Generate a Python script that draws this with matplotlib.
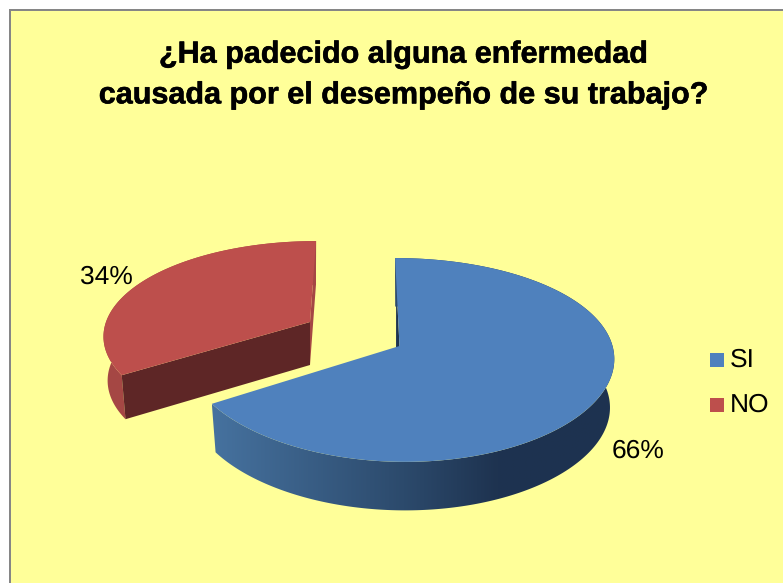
import numpy as np
import matplotlib
matplotlib.use("Agg")
import matplotlib.pyplot as plt
import matplotlib.patheffects as pe
from matplotlib.patches import Polygon, Rectangle
from matplotlib.colors import LinearSegmentedColormap

categories = ["SI", "NO"]
values = [66, 34]
title = "¿Ha padecido alguna enfermedad\ncausada por el desempeño de su trabajo?"
colors = ["#4F81BD", "#BD4F4C"]

plt.rcParams['font.family'] = ['Liberation Sans', 'DejaVu Sans']
plt.rcParams['text.hinting'] = 'none'
fig = plt.figure(figsize=(7.83, 5.83), dpi=100, facecolor="white")
ax = fig.add_axes([0, 0, 1, 1])
ax.set_xlim(0, 783)
ax.set_ylim(583, 0)
ax.axis("off")

ax.add_patch(Rectangle((10, 10), 800, 600, fc="#FFFF99", ec="#868686", lw=1.44))


def projector(x0, y0, rx, ry, shear, depth, kx, bscale):
    ky = 0.137

    def top(theta):
        s, c = np.sin(theta), np.cos(theta)
        dy = -ry * c / (1 + ky * c)
        dx = rx * s / (1 + kx * c) - shear * dy
        return x0 + dx, y0 + dy

    def bottom(theta):
        x, y = top(theta)
        return x0 + bscale * (x - x0), y + depth

    return top, bottom


fractions = np.array(values, dtype=float) / sum(values)
split = 2 * np.pi * fractions[0]

# --- NO slice (exploded, drawn first because it is behind) ---
top_n, bot_n = projector(310, 322, 204, 92, 0.075, 44, 0.122, 0.98)
th = np.linspace(split, 2 * np.pi, 160)
x1, y1 = top_n(th)
x2, y2 = bot_n(th)
side = "#A54744"
ax.add_patch(Polygon(np.r_[np.c_[x1, y1], np.c_[x2, y2][::-1]], fc=side, ec="none"))
# back cut face
tx, ty = top_n(2 * np.pi)
bx, by = bot_n(2 * np.pi)
ax.add_patch(Polygon([(tx, ty), (310, 322), (310, 322 + 43), (bx, by)], fc=side, ec="none"))
# front cut face
lx, ly = top_n(split)
lbx, lby = bot_n(split)
ax.add_patch(Polygon([(310, 322), (lx, ly), (lbx, lby), (310, 322 + 43)], fc="#5E2626", ec="none"))
ax.add_patch(Polygon(np.r_[[(310, 322)], np.c_[x1, y1]], fc=colors[1], ec="none"))

# --- SI slice ---
x0, y0 = 399.5, 346
top_s, bot_s = projector(x0, y0, 213, 100, -0.05, 48.5, 0.105, 0.98)
sx, sy = top_s(0.0)
ax.add_patch(Polygon([(sx, sy), (x0, y0), (x0 - 3.5, y0 + 47), (sx + 1, sy + 47)],
                     fc="#1D3350", ec="none"))

th = np.linspace(0, split, 400)
x1, y1 = top_s(th)
x2, y2 = bot_s(th)
side_poly = Polygon(np.r_[np.c_[x1, y1], np.c_[x2, y2][::-1]], fc="none", ec="none",
                    transform=ax.transData)
ax.add_patch(side_poly)
cmap = LinearSegmentedColormap.from_list(
    "side", [(0.0, "#46729F"), (0.47, "#2C4A6C"), (0.70, "#1E3350"), (1.0, "#1D3250")])
img = ax.imshow(np.linspace(0, 1, 256)[None, :], cmap=cmap, vmin=0, vmax=1,
                extent=(212, 620, 520, 250), aspect="auto", interpolation="bilinear", zorder=1)
img.set_clip_path(side_poly)
ax.set_xlim(0, 783)
ax.set_ylim(583, 0)
ax.add_patch(Polygon(np.r_[[(x0, y0)], np.c_[x1, y1]], fc=colors[0], ec="none", zorder=2))

# --- Texts ---
ax.text(403, 75, title, ha="center", va="center", fontsize=22, fontweight="bold",
        linespacing=1.52, color="black", zorder=3,
        path_effects=[pe.withStroke(linewidth=0.4, foreground="black")])
label_pos = [(638.5, 451), (106.5, 277)]
for v, (lxp, lyp) in zip(values, label_pos):
    ax.text(lxp, lyp, f"{v}%", ha="center", va="center", fontsize=19, color="black", zorder=3)

legend_y = [360, 405]
for cat, col, yy in zip(categories, colors, legend_y):
    ax.add_patch(Rectangle((710, yy - 7), 14, 14, fc=col, ec="none"))
    ax.text(730, yy, cat, ha="left", va="center", fontsize=19, color="black", zorder=3)

fig.savefig("out.png", dpi=100)
